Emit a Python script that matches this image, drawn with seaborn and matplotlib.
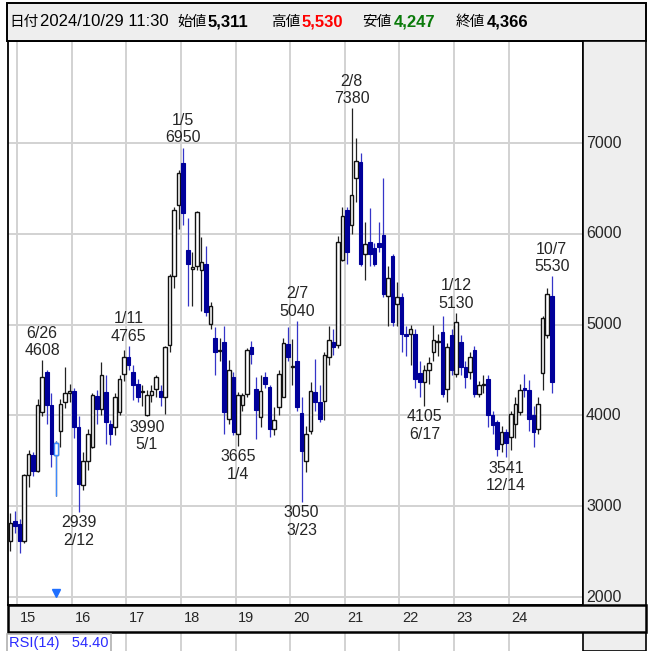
import pandas as pd
import seaborn as sns
import matplotlib.pyplot as plt
from matplotlib import font_manager
from matplotlib.patches import Rectangle
from matplotlib.transforms import blended_transform_factory

sns.set_style("white")

#=====================================================================================================================================

# DADOS MENSAIS (nov/2014 -> out/2024)

meses = pd.date_range('2014-11-01', periods=120, freq='MS')

abertura = [2620, 2840,
            2800, 2620, 3340, 3560, 3390, 4040, 4480, 4110, 3560, 3830, 4150, 4250,
            4270, 3870, 3230, 3500, 3650, 4210, 4070, 4260, 3900, 3870, 4040, 4460,
            4640, 4480, 4350, 4255, 4000, 4220, 4290, 4270, 4200, 4770, 5540, 6320,
            6780, 5820, 5615, 5640, 5600, 5670, 5010, 4850, 4710, 4810, 3960, 4420,
            3800, 4110, 4240, 4750, 4290, 3980, 4420, 4310, 3850, 4090, 4200, 4790,
            4530, 4600, 4030, 3500, 3830, 4260, 4150, 4160, 4640, 4810, 4770, 5710,
            6260, 6100, 6610, 6790, 5780, 5910, 5840, 5900, 5985, 5320, 5760, 5230,
            5300, 4900, 4900, 4900, 4470, 4370, 4500, 4700, 4805, 4920, 4290, 4880,
            4460, 4810, 4530, 4480, 4720, 4240, 4330, 4400, 4000, 3930, 3690, 3820,
            3760, 3910, 4040, 4300, 4280, 4000, 3850, 4470, 4880, 5311]

maxima = [2930, 2950,
          2860, 3360, 3620, 3600, 4180, 4608, 4500, 4250, 3720, 4180, 4530, 4350,
          4300, 3990, 3600, 3850, 4250, 4280, 4590, 4440, 3950, 4250, 4450, 4720,
          4765, 4560, 4400, 4330, 4280, 4330, 4450, 4330, 4760, 5560, 6300, 6700,
          6950, 6170, 5800, 6250, 5966, 5870, 5250, 4970, 4850, 4990, 4610, 4480,
          4260, 4250, 4740, 4820, 4420, 4440, 4480, 4340, 4090, 4500, 4850, 4970,
          4840, 5040, 4200, 3880, 4370, 4620, 4330, 4700, 4990, 4950, 5980, 6300,
          6300, 7380, 7050, 6890, 6130, 6280, 5900, 6130, 6610, 5650, 5780, 5470,
          5350, 4980, 5000, 4950, 4600, 4560, 4640, 5000, 4900, 5100, 4800, 4950,
          5130, 4880, 4600, 4700, 4760, 4380, 4450, 4450, 4050, 3950, 3880, 3850,
          4050, 4200, 4350, 4460, 4390, 4100, 4200, 5100, 5400, 5530]

minima = [2510, 2700,
          2490, 2600, 3210, 3330, 3380, 3990, 3900, 3430, 3117, 3650, 4080, 4150,
          3750, 2939, 3180, 3400, 3640, 3900, 4000, 3690, 3670, 3780, 4000, 4380,
          4500, 4170, 4150, 4100, 3990, 4150, 4200, 4100, 4020, 4700, 5400, 6050,
          6100, 5210, 5200, 5600, 5150, 5100, 4950, 4440, 4600, 3800, 3900, 3779,
          3665, 4050, 4200, 4570, 3740, 3870, 4300, 3760, 3780, 4000, 4200, 4600,
          4330, 4050, 3050, 3380, 3800, 4050, 3930, 3950, 4550, 4660, 4740, 5700,
          5670, 6000, 6350, 5650, 5490, 5650, 5650, 5800, 5300, 4990, 4980, 4990,
          4700, 4650, 4550, 4300, 4200, 4105, 4350, 4600, 4650, 4200, 4150, 4450,
          4420, 4450, 4300, 4400, 4200, 4200, 4250, 3870, 3800, 3550, 3600, 3541,
          3620, 3750, 4000, 4200, 3830, 3650, 3800, 4280, 4850, 4247]

fechamento = [2820, 2780,
              2620, 3340, 3580, 3390, 4110, 4420, 4110, 3580, 3700, 4130, 4250, 4270,
              3870, 3250, 3500, 3800, 4220, 4070, 4440, 3930, 3800, 4200, 4400, 4640,
              4550, 4330, 4200, 4260, 4220, 4270, 4420, 4200, 4750, 5540, 6260, 6670,
              6230, 5670, 5625, 6240, 5690, 5140, 5210, 4700, 4720, 4040, 4500, 3815,
              4220, 4220, 4720, 4680, 4055, 4270, 4350, 3850, 3945, 4460, 4800, 4645,
              4535, 4090, 3610, 3800, 4270, 4150, 3960, 4660, 4830, 4750, 5910, 6200,
              5800, 6430, 6800, 5670, 5890, 5780, 5670, 5850, 5340, 5510, 5030, 5300,
              4900, 4870, 4950, 4400, 4370, 4500, 4580, 4830, 4815, 4240, 4750, 4500,
              5030, 4530, 4420, 4640, 4240, 4330, 4350, 4000, 3890, 3630, 3820, 3700,
              4020, 4130, 4280, 4280, 3960, 3820, 4130, 5070, 5340, 4366]

# marcas de maximas e minimas (mes, texto da data, valor)
marcas_maxima = [('2015-06', '6/26', 4608), ('2017-01', '1/11', 4765), ('2018-01', '1/5', 6950),
                 ('2020-02', '2/7', 5040), ('2021-02', '2/8', 7380), ('2023-01', '1/12', 5130),
                 ('2024-10', '10/7', 5530)]
marcas_minima = [('2016-02', '2/12', 2939), ('2017-05', '5/1', 3990), ('2019-01', '1/4', 3665),
                 ('2020-03', '3/23', 3050), ('2022-06', '6/17', 4105), ('2023-12', '12/14', 3541)]

anos = ['15', '16', '17', '18', '19', '20', '21', '22', '23', '24']
niveis_preco = [2000, 3000, 4000, 5000, 6000, 7000]

cabecalho = [('日付', 9, 'black', 'normal', 'cjk'),
             ('2024/10/29 11:30', 40, 'black', 'normal', 'num'),
             ('始値', 177, 'black', 'normal', 'cjk'),
             ('5,311', 208, 'black', 'bold', 'num'),
             ('高値', 271, 'black', 'normal', 'cjk'),
             ('5,530', 302, '#ff0000', 'bold', 'num'),
             ('安値', 362, 'black', 'normal', 'cjk'),
             ('4,247', 394, '#0a7a0a', 'bold', 'num'),
             ('終値', 456, 'black', 'normal', 'cjk'),
             ('4,366', 487, 'black', 'bold', 'num')]

#=====================================================================================================================================

# FONTE ESTREITA (a que existir)

def existe(nome):
    try:
        font_manager.findfont(nome, fallback_to_default=False)
        return True
    except ValueError:
        return False

# (familia, tamanho rotulos, tamanho cabecalho, tamanho anos)
opcoes = [('Noto Sans ExtraCondensed', 14, 15.5, 12.5),
          ('Noto Sans Condensed', 12.5, 14, 11.5),
          ('Liberation Sans Narrow', 12.5, 14.5, 11.5),
          ('Liberation Sans', 11.5, 12, 10.5)]
fonte, tam_rot, tam_cab, tam_ano = next(o for o in opcoes if existe(o[0]))
plt.rcParams['font.family'] = [fonte, 'Noto Sans CJK JP', 'DejaVu Sans']

#=====================================================================================================================================

df = pd.DataFrame({'mes': meses, 'abertura': abertura, 'maxima': maxima,
                   'minima': minima, 'fechamento': fechamento})
df['pos'] = range(-2, len(df) - 2)
df['sobe'] = df['fechamento'] >= df['abertura']
pos_de = {m.strftime('%Y-%m'): p for m, p in zip(df['mes'], df['pos'])}

W = 651
def fx(px):
    return px / W
def fy(py):
    return 1 - py / W

AZUL = '#00009a'
PAVIO_AZUL = '#3535c8'
CINZA = '#eeeeee'
GRADE = '#d2d2d2'
LARGURA = 0.78

fig = plt.figure(figsize=(6.51, 6.51), dpi=100)

# paineis cinzas (cabecalho, eixo da direita, faixa dos anos)
fig.patches.append(Rectangle((fx(7), fy(41)), fx(639), (41 - 3) / W, transform=fig.transFigure,
                             facecolor=CINZA, edgecolor='black', lw=1.4, zorder=0))
fig.patches.append(Rectangle((fx(583), 0), fx(63), fy(41), transform=fig.transFigure,
                             facecolor=CINZA, edgecolor='black', lw=1.2, zorder=0))
fig.patches.append(Rectangle((fx(7.5), fy(632)), fx(638.5), (632 - 605) / W, transform=fig.transFigure,
                             facecolor=CINZA, edgecolor='black', lw=1.8, zorder=0))

x_esq, x_dir = (7.5 - 19.5) / 4.549, (583 - 19.5) / 4.549
ax = fig.add_axes([fx(7.5), fy(605), fx(583 - 7.5), (605 - 41) / W])
ax.set_xlim(x_esq, x_dir)
ax.set_ylim(7000 - (605 - 143) / 0.0908, 7000 + (143 - 41) / 0.0908)
ax.set_facecolor('white')
ax.set_xticks([])
ax.set_yticks([])
for lado in ['left', 'right', 'top', 'bottom']:
    ax.spines[lado].set_color('black')
    ax.spines[lado].set_linewidth(1.3)

for nivel in niveis_preco:
    ax.axhline(nivel, color=GRADE, lw=1.4, zorder=0)
for k in range(len(anos)):
    ax.axvline(12 * k - 0.5, color=GRADE, lw=1.4, zorder=0)

# candles
sobe = df[df['sobe']]
desce = df[~df['sobe']]
ax.vlines(sobe['pos'], sobe['minima'], sobe['maxima'], color='#222222', lw=0.9, zorder=2)
ax.vlines(desce['pos'], desce['minima'], desce['maxima'], color=PAVIO_AZUL, lw=0.9, zorder=2)

corpo = (df['fechamento'] - df['abertura']).abs().clip(lower=14)
base = df[['abertura', 'fechamento']].min(axis=1)
ax.bar(sobe['pos'], corpo[df['sobe']], bottom=base[df['sobe']], width=LARGURA,
       color='white', edgecolor='#111111', lw=1.0, zorder=3)
ax.bar(desce['pos'], corpo[~df['sobe']], bottom=base[~df['sobe']], width=LARGURA,
       color=AZUL, edgecolor=AZUL, lw=0.8, zorder=3)

# mes selecionado (set/2015)
sel = df[df['mes'] == '2015-09-01']
ax.vlines(sel['pos'], sel['minima'], sel['maxima'], color='#3d8bff', lw=0.9, zorder=4)
ax.bar(sel['pos'], corpo[sel.index], bottom=base[sel.index], width=LARGURA,
       color='white', edgecolor='#3d8bff', lw=1.0, zorder=5)
ax.plot(sel['pos'], [7000 - (593 - 143) / 0.0908], marker='v', color='#1f6fff', ms=6, zorder=5)

for mes, data, valor in marcas_maxima:
    ax.annotate(f'{data}\n{valor}', xy=(pos_de[mes], valor), xytext=(0, 1.5),
                textcoords='offset points', ha='center', va='bottom', multialignment='center',
                fontsize=tam_rot, linespacing=1.2, zorder=6)
for mes, data, valor in marcas_minima:
    ax.annotate(f'{valor}\n{data}', xy=(pos_de[mes], valor), xytext=(0, -2.5),
                textcoords='offset points', ha='center', va='top', multialignment='center',
                fontsize=tam_rot, linespacing=1.2, zorder=6)

# rotulos do eixo de preco
trans_y = blended_transform_factory(fig.transFigure, ax.transData)
for nivel in niveis_preco:
    fig.text(fx(586), nivel, str(nivel), transform=trans_y, ha='left', va='center', fontsize=tam_rot)

# rotulos dos anos
trans_x = blended_transform_factory(ax.transData, fig.transFigure)
for k, ano in enumerate(anos):
    fig.text(12 * k - 0.5 + 0.6, fy(618.5), ano, transform=trans_x, ha='left', va='center', fontsize=tam_ano)

# painel do RSI
ax_rsi = fig.add_axes([fx(7.5), 0, fx(583 - 7.5), (651 - 632) / W])
ax_rsi.set_xlim(x_esq, x_dir)
ax_rsi.set_xticks([])
ax_rsi.set_yticks([])
for k in range(len(anos)):
    ax_rsi.axvline(12 * k - 0.5, color=GRADE, lw=1.4, zorder=0)
for lado in ['left', 'right', 'top', 'bottom']:
    ax_rsi.spines[lado].set_visible(lado in ['left', 'right'])
    ax_rsi.spines[lado].set_color('black')
fig.text(fx(9), fy(643), 'RSI(14)   54.40', ha='left', va='center', fontsize=tam_ano, color='#2b2bff',
         bbox=dict(boxstyle='square,pad=0.15', facecolor='white', edgecolor='#b0b0b0', lw=1.2))

# cabecalho
for texto, x, cor, peso, tipo in cabecalho:
    if tipo == 'cjk':
        fig.text(fx(x), fy(22), texto, ha='left', va='center', fontsize=10.5, color=cor,
                 family=['Noto Sans CJK JP'])
    else:
        fig.text(fx(x), fy(22), texto, ha='left', va='center', fontsize=tam_cab, color=cor,
                 fontweight=peso, family=[fonte, 'DejaVu Sans'])

fig.savefig('out.png', dpi=100)
